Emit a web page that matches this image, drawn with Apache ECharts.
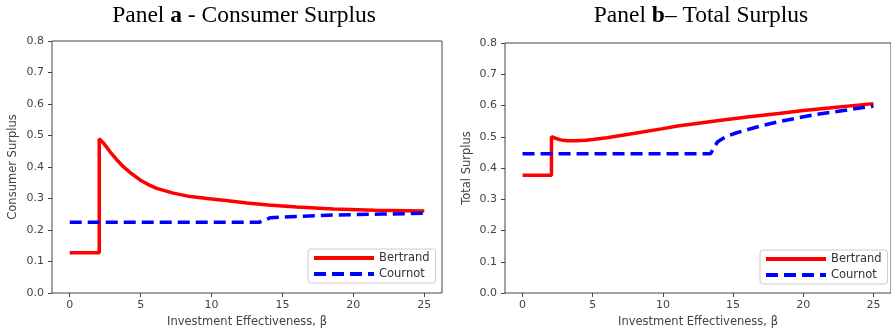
<!DOCTYPE html>
<html>
<head>
<meta charset="utf-8">
<script src="https://cdn.jsdelivr.net/npm/echarts@6/dist/echarts.min.js"></script>
<style>
  html, body { margin: 0; padding: 0; background: #fff; }
  #chart { width: 891px; height: 333px; }
</style>
</head>
<body>
<div id="chart"></div>
<script>
// tick values shared by both panels
const xTicks = [0, 5, 10, 15, 20, 25];

// Panel a - consumer surplus
const csBertrandX = [0, 2.08, 2.08, 2.12, 2.4, 2.83, 3.3, 3.78, 4.3, 4.96, 5.5, 6.14, 7.3, 8.5, 9.7, 11, 12.5, 14, 16, 18.6, 21.5, 25];
const csBertrandY = [0.128, 0.128, 0.49, 0.496, 0.475, 0.449, 0.424, 0.401, 0.381, 0.359, 0.345, 0.332, 0.317, 0.306, 0.3, 0.294, 0.286, 0.279, 0.273, 0.267, 0.263, 0.26];
const csCournotX = [0, 13.34, 14.16, 16, 18.65, 22, 25];
const csCournotY = [0.2244, 0.2244, 0.239, 0.243, 0.2476, 0.2505, 0.253];

// Panel b - total surplus
const tsBertrandX = [0, 2.06, 2.06, 2.3, 2.7, 3.2, 3.8, 4.5, 5, 6, 7, 8, 10, 11.15, 12, 14, 16, 18.25, 20, 22, 25];
const tsBertrandY = [0.377, 0.377, 0.5, 0.496, 0.49, 0.487, 0.487, 0.489, 0.491, 0.497, 0.504, 0.511, 0.526, 0.535, 0.54, 0.552, 0.563, 0.5745, 0.584, 0.593, 0.606];
const tsCournotX = [0, 13.4, 13.7, 13.9, 14.47, 15.2, 15.9, 17, 18.25, 20.6, 23, 25];
const tsCournotY = [0.446, 0.446, 0.47, 0.484, 0.5, 0.512, 0.521, 0.535, 0.548, 0.569, 0.585, 0.598];

const zip = (xs, ys) => xs.map((x, i) => [x, ys[i]]);

const tickFont = { fontFamily: "DejaVu Sans", fontSize: 11, color: "#444" };
const nameFont = { fontFamily: "DejaVu Sans", fontSize: 11.5, color: "#444" };

function xAxisFor(gridIndex) {
	return {
		type: "value",
		gridIndex,
		min: -1.25,
		max: 26.25,
		name: "Investment Effectiveness, β",
		nameLocation: "middle",
		nameGap: 23,
		nameTextStyle: nameFont,
		axisLine: { show: false, onZero: false },
		axisTick: { show: true, customValues: xTicks, length: 4, lineStyle: { color: "#444" } },
		axisLabel: { ...tickFont, margin: 7, customValues: xTicks },
		splitLine: { show: false },
	};
}

function yAxisFor(gridIndex, name, gap) {
	return {
		type: "value",
		gridIndex,
		min: 0,
		max: 0.8,
		interval: 0.1,
		name,
		nameLocation: "middle",
		nameGap: gap,
		nameTextStyle: nameFont,
		axisLine: { show: false, onZero: false },
		axisTick: { show: true, length: 4, lineStyle: { color: "#444" } },
		axisLabel: { ...tickFont, margin: 8, formatter: (v) => v.toFixed(1) },
		splitLine: { show: false },
	};
}

function legendAt(left, top) {
	return {
		data: ["Bertrand", "Cournot"],
		orient: "vertical",
		left,
		top,
		padding: [3, 6, 3, 4],
		itemGap: 4,
		itemWidth: 60,
		itemHeight: 14,
		borderColor: "#ccc",
		borderWidth: 1,
		borderRadius: 3,
		backgroundColor: "#fff",
		itemStyle: { opacity: 0 },
		lineStyle: { width: 4 },
		textStyle: { fontFamily: "DejaVu Sans", fontSize: 11.5, color: "#333" },
	};
}

const titleRich = {
	n: { fontFamily: "Liberation Serif", fontSize: 23.5, fontWeight: "normal", color: "#000" },
	b: { fontFamily: "Liberation Serif", fontSize: 23.5, fontWeight: "bold", color: "#000" },
};

function lineSeries(name, data, idx, color, dashed) {
	return {
		name,
		type: "line",
		xAxisIndex: idx,
		yAxisIndex: idx,
		data,
		symbol: "none",
		showSymbol: false,
		lineStyle: { color, width: 3.5, type: dashed ? [12, 6] : "solid" },
		itemStyle: { color },
		z: dashed ? 3 : 2,
	};
}

const chart = echarts.init(document.getElementById("chart"));
chart.setOption({
	animation: false,
	title: [
		{ text: "{n|Panel }{b|a}{n| - Consumer Surplus}", left: 244, top: 4, textAlign: "center", padding: 0, textStyle: { fontWeight: "normal", rich: titleRich } },
		{ text: "{n|Panel }{b|b}{n|– Total Surplus}", left: 701, top: 4, textAlign: "center", padding: 0, textStyle: { fontWeight: "normal", rich: titleRich } },
	],
	legend: [legendAt(308, 249), legendAt(760, 250)],
	grid: [
		{ left: 52, top: 41, width: 390, height: 252, show: true, borderColor: "#444", borderWidth: 1 },
		{ left: 505, top: 43, width: 388, height: 250, show: true, borderColor: "#444", borderWidth: 1 },
	],
	xAxis: [xAxisFor(0), xAxisFor(1)],
	yAxis: [yAxisFor(0, "Consumer Surplus", 33), yAxisFor(1, "Total Surplus", 32)],
	series: [
		lineSeries("Bertrand", zip(csBertrandX, csBertrandY), 0, "#ff0000", false),
		lineSeries("Cournot", zip(csCournotX, csCournotY), 0, "#0000ff", true),
		lineSeries("Bertrand", zip(tsBertrandX, tsBertrandY), 1, "#ff0000", false),
		lineSeries("Cournot", zip(tsCournotX, tsCournotY), 1, "#0000ff", true),
	],
});
</script>
</body>
</html>
